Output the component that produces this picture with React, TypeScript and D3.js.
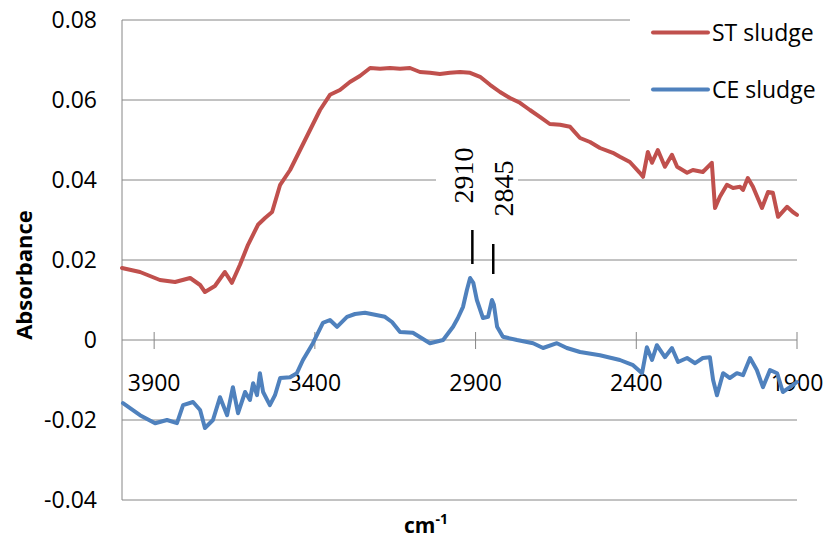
import * as d3 from "d3";

// wavenumber (cm-1) / absorbance
const stWave = [4000, 3944, 3882, 3835, 3788, 3757, 3742, 3711, 3680, 3658, 3633, 3608, 3577, 3555, 3533, 3508, 3477, 3446, 3415, 3384, 3353, 3322, 3291, 3260, 3228, 3197, 3166, 3135, 3104, 3073, 3042, 3011, 2980, 2948, 2917, 2886, 2855, 2824, 2793, 2762, 2731, 2700, 2669, 2637, 2606, 2575, 2544, 2513, 2473, 2451, 2420, 2389, 2379, 2364, 2351, 2333, 2311, 2289, 2273, 2242, 2224, 2193, 2165, 2155, 2140, 2118, 2099, 2077, 2068, 2053, 2037, 2009, 1990, 1975, 1959, 1931, 1913, 1900];
const stAbs = [0.018, 0.017, 0.015, 0.0145, 0.0155, 0.01375, 0.012, 0.0135, 0.017, 0.0143, 0.0188, 0.0238, 0.0288, 0.0305, 0.032, 0.0388, 0.0425, 0.0475, 0.0525, 0.0575, 0.0613, 0.0625, 0.0645, 0.066, 0.068, 0.0678, 0.068, 0.0678, 0.068, 0.067, 0.0668, 0.0665, 0.0668, 0.067, 0.0668, 0.0658, 0.0638, 0.062, 0.0605, 0.0593, 0.0575, 0.0558, 0.054, 0.0538, 0.0533, 0.0505, 0.0495, 0.048, 0.0468, 0.0458, 0.0445, 0.0418, 0.0408, 0.047, 0.0443, 0.0475, 0.0433, 0.0463, 0.0433, 0.0418, 0.0425, 0.042, 0.0443, 0.033, 0.0358, 0.0388, 0.038, 0.0383, 0.0375, 0.0405, 0.0383, 0.033, 0.037, 0.0368, 0.0308, 0.0333, 0.032, 0.0313];

const ceWave = [3997, 3944, 3897, 3860, 3829, 3810, 3779, 3757, 3742, 3717, 3695, 3673, 3655, 3639, 3617, 3602, 3592, 3580, 3571, 3561, 3540, 3524, 3508, 3477, 3456, 3437, 3406, 3375, 3353, 3331, 3300, 3275, 3244, 3213, 3182, 3160, 3135, 3095, 3042, 3001, 2970, 2955, 2939, 2927, 2917, 2907, 2896, 2877, 2861, 2849, 2843, 2833, 2815, 2771, 2721, 2690, 2647, 2616, 2575, 2513, 2451, 2410, 2382, 2367, 2351, 2336, 2311, 2289, 2270, 2242, 2217, 2193, 2171, 2161, 2149, 2130, 2109, 2087, 2068, 2046, 2025, 2006, 1984, 1962, 1944, 1922, 1900];
const ceAbs = [-0.0158, -0.0188, -0.0208, -0.02, -0.0208, -0.0163, -0.0155, -0.0175, -0.022, -0.02, -0.0143, -0.0188, -0.0118, -0.0183, -0.013, -0.015, -0.0108, -0.0138, -0.0083, -0.013, -0.0163, -0.0138, -0.0095, -0.0093, -0.0083, -0.005, -0.0008, 0.0043, 0.005, 0.0033, 0.0058, 0.0065, 0.0068, 0.0063, 0.0058, 0.0045, 0.002, 0.0018, -0.0008, 0.0, 0.0033, 0.0055, 0.0083, 0.0125, 0.0155, 0.0143, 0.01, 0.0055, 0.0058, 0.01, 0.0088, 0.0033, 0.0008, 0.0, -0.0008, -0.002, -0.0008, -0.002, -0.003, -0.0038, -0.005, -0.0063, -0.0083, -0.0018, -0.005, -0.0013, -0.0043, -0.002, -0.0055, -0.0045, -0.0058, -0.0045, -0.0043, -0.01, -0.0138, -0.0083, -0.0095, -0.0083, -0.0088, -0.0045, -0.0075, -0.0118, -0.0075, -0.0083, -0.013, -0.0118, -0.0105];

const xTicks = [3900, 3400, 2900, 2400, 1900];
const yTicks = [-0.04, -0.02, 0, 0.02, 0.04, 0.06, 0.08];
const seriesNames = ["ST sludge", "CE sludge"];
const seriesColors = ["#c0504d", "#4f81bd"];
const peakMarks = [
  { wave: 2910, top: 0.0275, bottom: 0.019, label: "2910" },
  { wave: 2845, top: 0.024, bottom: 0.0165, label: "2845" },
];

const W = 826;
const H = 540;
const FONT = "'Open Sans', sans-serif";
const GRID = "#868686";

export default function App() {
  const x = d3.scaleLinear().domain([4000, 1900]).range([122, 797]);
  const y = d3.scaleLinear().domain([-0.04, 0.08]).range([500, 20]);

  const line = d3
    .line<[number, number]>()
    .x((d) => x(d[0]))
    .y((d) => y(d[1]));

  const series = [
    stWave.map((w, i) => [w, stAbs[i]] as [number, number]),
    ceWave.map((w, i) => [w, ceAbs[i]] as [number, number]),
  ];

  const fmt = (v: number) => (v === 0 ? "0" : d3.format(".2f")(v).replace("−", "-"));

  return (
    <svg
      width={W}
      height={H}
      style={{ position: "absolute", left: 0, top: 0, background: "#fff" }}
    >
      {/* gridlines */}
      {yTicks.map((t) => (
        <line key={t} x1={x(4000)} x2={x(1900)} y1={y(t)} y2={y(t)} stroke={GRID} strokeWidth={1} />
      ))}
      <line x1={x(4000)} x2={x(4000)} y1={y(0.08)} y2={y(-0.04)} stroke={GRID} strokeWidth={1} />

      {/* x axis ticks crossing the zero line */}
      {xTicks.map((t) => (
        <line key={t} x1={x(t)} x2={x(t)} y1={y(0) - 8} y2={y(0) + 9} stroke={GRID} strokeWidth={1} />
      ))}

      {/* y labels */}
      {yTicks.map((t) => (
        <text key={t} x={97} y={y(t) + 8} textAnchor="end" fontFamily={FONT} fontSize={23} fill="#000">
          {fmt(t)}
        </text>
      ))}

      {/* white boxes under legend and peak labels */}
      <rect x={630} y={0} width={196} height={114} fill="#fff" />
      <rect x={436} y={140} width={82} height={82} fill="#fff" />

      {/* x labels */}
      {xTicks.map((t) => (
        <text key={t} x={x(t)} y={391} textAnchor="middle" fontFamily={FONT} fontSize={23} fill="#000">
          {t}
        </text>
      ))}

      {/* series */}
      {series.map((s, i) => (
        <path
          key={i}
          d={line(s) ?? ""}
          fill="none"
          stroke={seriesColors[i]}
          strokeWidth={4}
          strokeLinejoin="round"
          strokeLinecap="round"
        />
      ))}

      {/* peak markers */}
      {peakMarks.map((p, i) => (
        <g key={p.label}>
          <line x1={x(p.wave)} x2={x(p.wave)} y1={y(p.top)} y2={y(p.bottom)} stroke="#000" strokeWidth={2.5} />
          <text
            transform={`translate(${i === 0 ? 473 : 513},${i === 0 ? 175.5 : 188.5}) rotate(-90)`}
            textAnchor="middle"
            fontFamily="'Liberation Serif', serif"
            fontSize={28}
            fill="#000"
          >
            {p.label}
          </text>
        </g>
      ))}

      {/* legend */}
      {seriesNames.map((n, i) => (
        <g key={n} transform={`translate(0,${i * 57})`}>
          <line x1={653} x2={708} y1={32.5} y2={32.5} stroke={seriesColors[i]} strokeWidth={4} strokeLinecap="round" />
          <text x={712} y={41} fontFamily={FONT} fontSize={23} fill="#000">
            {n}
          </text>
        </g>
      ))}

      {/* axis titles */}
      <text
        transform="translate(32,275) rotate(-90)"
        textAnchor="middle"
        fontFamily={FONT}
        fontWeight="bold"
        fontSize={22}
        fill="#000"
      >
        Absorbance
      </text>
      <text x={404} y={533} fontFamily={FONT} fontWeight="bold" fontSize={21} fill="#000">
        cm
        <tspan fontSize={14} dy={-9}>-1</tspan>
      </text>
    </svg>
  );
}
